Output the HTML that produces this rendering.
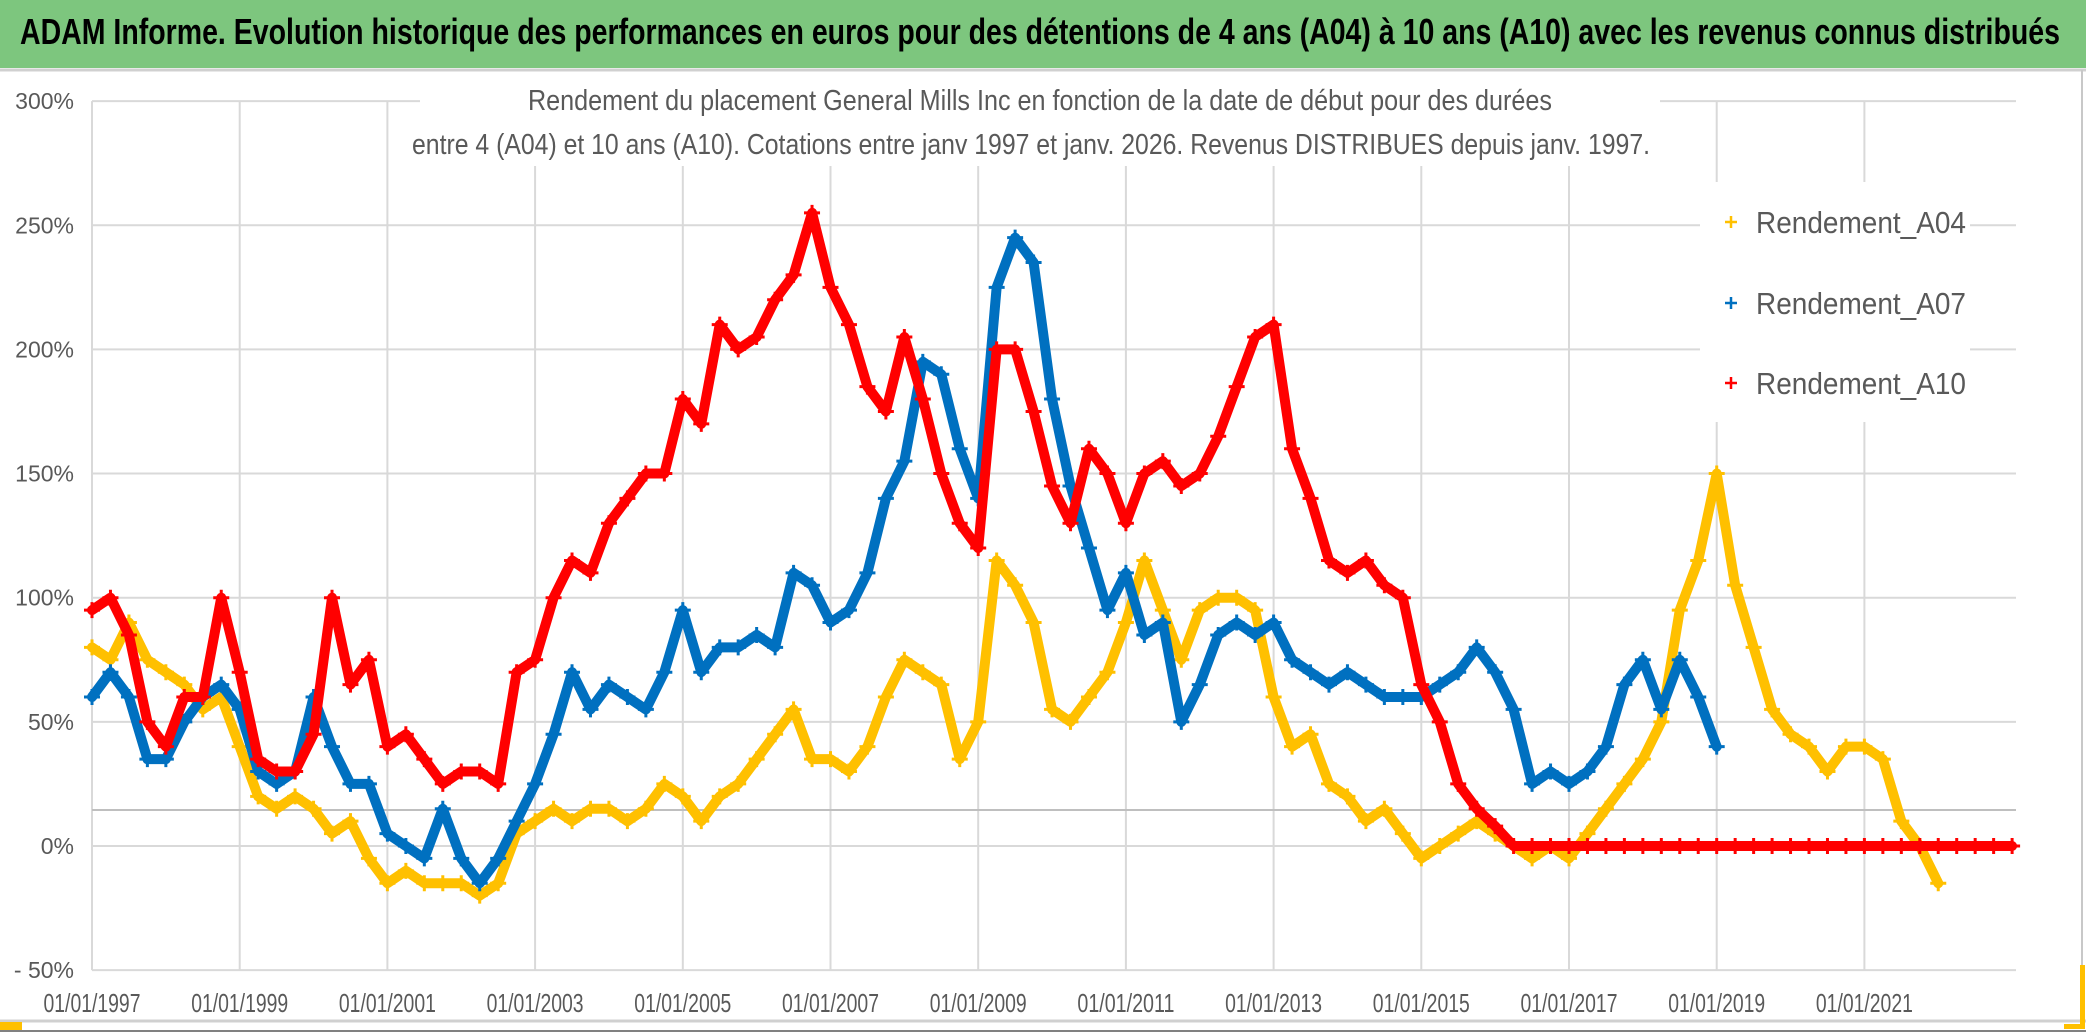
<!DOCTYPE html>
<html><head><meta charset="utf-8"><style>
html,body{margin:0;padding:0;background:#fff;}
svg{display:block;font-family:"Liberation Sans",sans-serif;}
</style></head><body>
<svg id="chart" width="2086" height="1032" viewBox="0 0 2086 1032" xmlns="http://www.w3.org/2000/svg">
<rect x="0" y="0" width="2086" height="1032" fill="#fff"/>
<rect x="0" y="0" width="2086" height="68" fill="#7DC67E"/>
<line x1="0" y1="70" x2="2086" y2="70" stroke="#d0d0d0" stroke-width="3"/>
<text x="1040" y="44" text-anchor="middle" font-size="36" font-weight="bold" fill="#000" textLength="2040" lengthAdjust="spacingAndGlyphs">ADAM Informe. Evolution historique des performances en euros pour des détentions de 4 ans (A04) à 10 ans (A10) avec les revenus connus distribués</text>
<g id="grid"></g>
<line x1="92" y1="810" x2="2016" y2="810" stroke="#bfbfbf" stroke-width="2"/>
<rect x="420" y="80" width="1240" height="86" fill="#fff"/>
<text x="1040" y="110" text-anchor="middle" font-size="29" fill="#595959" textLength="1024" lengthAdjust="spacingAndGlyphs">Rendement du placement General Mills Inc en fonction de la date de début pour des durées</text>
<text x="1031" y="154" text-anchor="middle" font-size="29" fill="#595959" textLength="1238" lengthAdjust="spacingAndGlyphs">entre 4 (A04) et 10 ans (A10). Cotations entre janv 1997 et janv. 2026. Revenus DISTRIBUES depuis janv. 1997.</text>
<g id="series"></g>
<rect x="1700" y="182" width="270" height="240" fill="#fff"/>
<g><path d="M1725 222h12M1731 216v12" stroke="#FFC000" stroke-width="2.5"/><text x="1756" y="233" font-size="31" fill="#595959" textLength="210" lengthAdjust="spacingAndGlyphs">Rendement_A04</text></g>
<g><path d="M1725 303h12M1731 297v12" stroke="#0070C0" stroke-width="2.5"/><text x="1756" y="314" font-size="31" fill="#595959" textLength="210" lengthAdjust="spacingAndGlyphs">Rendement_A07</text></g>
<g><path d="M1725 383h12M1731 377v12" stroke="#FF0000" stroke-width="2.5"/><text x="1756" y="394" font-size="31" fill="#595959" textLength="210" lengthAdjust="spacingAndGlyphs">Rendement_A10</text></g>
<g id="axes"></g>
<line x1="0" y1="1021" x2="2086" y2="1021" stroke="#d0d0d0" stroke-width="3"/>
<rect x="0" y="1022" width="22" height="8" fill="#FFC000"/>
<line x1="2082" y1="70" x2="2082" y2="1021" stroke="#c8c8c8" stroke-width="2"/>
<rect x="2080" y="965" width="5" height="64" fill="#FFC000"/>
<rect x="2064" y="1024" width="20" height="5" fill="#FFC000"/>
<rect x="0" y="1030" width="2086" height="2" fill="#808080"/>
</svg>
<script>
const yTicks=[300,250,200,150,100,50,0,-50];
const yTickLabels=["300%","250%","200%","150%","100%","50%","0%","- 50%"];
const xTicks=[1997,1999,2001,2003,2005,2007,2009,2011,2013,2015,2017,2019,2021];
const xTickLabels=["01/01/1997","01/01/1999","01/01/2001","01/01/2003","01/01/2005","01/01/2007","01/01/2009","01/01/2011","01/01/2013","01/01/2015","01/01/2017","01/01/2019","01/01/2021"];
const startYear=1997, stepYear=0.25;
const a04=[80,75,90,75,70,65,55,60,40,20,15,20,15,5,10,-5,-15,-10,-15,-15,-15,-20,-15,5,10,15,10,15,15,10,15,25,20,10,20,25,35,45,55,35,35,30,40,60,75,70,65,35,50,115,105,90,55,50,60,70,90,115,95,75,95,100,100,95,60,40,45,25,20,10,15,5,-5,0,5,10,5,0,-5,0,-5,5,15,25,35,50,95,115,150,105,80,55,45,40,30,40,40,35,10,0,-15];
const a07=[60,70,60,35,35,50,60,65,55,30,25,30,60,40,25,25,5,0,-5,15,-5,-15,-5,10,25,45,70,55,65,60,55,70,95,70,80,80,85,80,110,105,90,95,110,140,155,195,190,160,140,225,245,235,180,145,120,95,110,85,90,50,65,85,90,85,90,75,70,65,70,65,60,60,60,65,70,80,70,55,25,30,25,30,40,65,75,55,75,60,40];
const a10=[95,100,85,50,40,60,60,100,70,35,30,30,45,100,65,75,40,45,35,25,30,30,25,70,75,100,115,110,130,140,150,150,180,170,210,200,205,220,230,255,225,210,185,175,205,180,150,130,120,200,200,175,145,130,160,150,130,150,155,145,150,165,185,205,210,160,140,115,110,115,105,100,65,50,25,15,8,0,0,0,0,0,0,0,0,0,0,0,0,0,0,0,0,0,0,0,0,0,0,0,0,0,0,0,0];
const NS="http://www.w3.org/2000/svg";
const X0=92,X1=2016,PX_YEAR=73.85,Y0=846,PX_PCT=2.483;
function xs(yr){return X0+(yr-startYear)*PX_YEAR;}
function ys(v){return Y0-v*PX_PCT;}
function mk(tag,attrs,parent){const e=document.createElementNS(NS,tag);for(const k in attrs)e.setAttribute(k,attrs[k]);parent.appendChild(e);return e;}
const grid=document.getElementById('grid'),axes=document.getElementById('axes'),ser=document.getElementById('series');
yTicks.forEach((t,i)=>{
  const l=mk('line',{x1:X0,x2:X1,y1:ys(t),y2:ys(t),stroke:'#d9d9d9','stroke-width':2},grid);
  
  
  const tx=mk('text',{x:74,y:ys(t)+8,'text-anchor':'end','font-size':23,fill:'#595959'},axes);
  tx.textContent=yTickLabels[i];
  
  
});
mk('line',{x1:X0,x2:X0,y1:ys(300),y2:ys(-50),stroke:'#d9d9d9','stroke-width':2},grid);
xTicks.forEach((t,i)=>{
  if(i>0){const l=mk('line',{x1:xs(t),x2:xs(t),y1:ys(300),y2:ys(-50),stroke:'#d9d9d9','stroke-width':2},grid);
  
  }
  const tx=mk('text',{x:xs(t),y:1012,'text-anchor':'middle','font-size':26,fill:'#595959',textLength:97,lengthAdjust:'spacingAndGlyphs'},axes);
  tx.textContent=xTickLabels[i];
  
  
});
function drawSeries(vals,color,name){
  const g=mk('g',{},ser);
  
  
  const pts=vals.map((v,i)=>[xs(startYear+i*stepYear),ys(v)]);
  const pl=mk('polyline',{points:pts.map(p=>p.join(',')).join(' '),fill:'none',stroke:color,'stroke-width':10,'stroke-linejoin':'round','stroke-linecap':'round'},g);
  
  
  pts.forEach(p=>{
    const m=mk('path',{d:`M${p[0]-8} ${p[1]}h16M${p[0]} ${p[1]-8}v16`,stroke:color,'stroke-width':3},g);
    
    
  });
}
drawSeries(a04,'#FFC000','series-a04');
drawSeries(a07,'#0070C0','series-a07');
drawSeries(a10,'#FF0000','series-a10');
</script>
</body></html>
